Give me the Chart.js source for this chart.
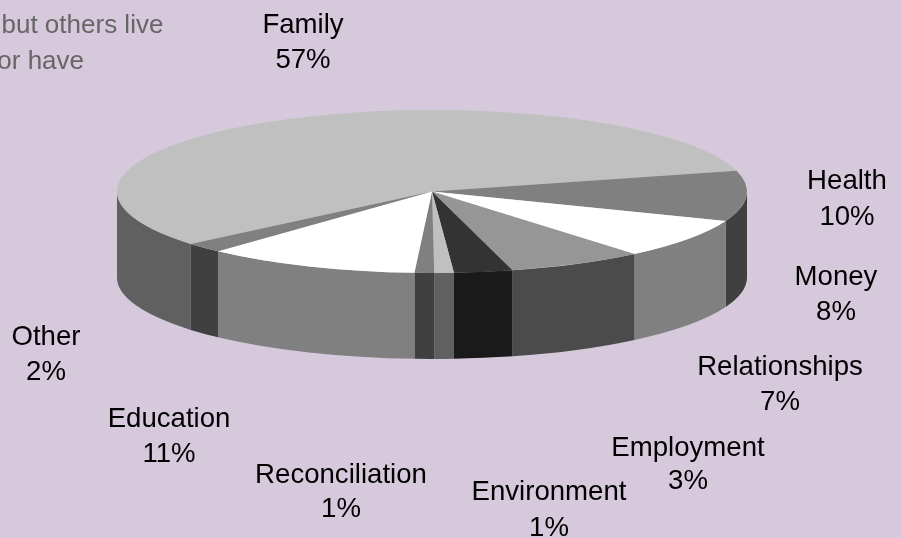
<!DOCTYPE html>
<html>
<head>
<meta charset="utf-8">
<style>
  html, body { margin: 0; padding: 0; background: #d6c9dc; }
  canvas { display: block; }
</style>
<script src="https://cdn.jsdelivr.net/npm/chart.js@4"></script>
</head>
<body>
<canvas id="myChart" width="901" height="538"></canvas>
<script>
var categories = ['Family', 'Health', 'Money', 'Relationships', 'Employment', 'Environment', 'Reconciliation', 'Education', 'Other'];
var shares = [57, 10, 8, 7, 3, 1, 1, 11, 2];
var topColors = ['#c0c0c0', '#808080', '#ffffff', '#969696', '#333333', '#c0c0c0', '#808080', '#ffffff', '#808080'];
var sideColors = ['#606060', '#404040', '#808080', '#4b4b4b', '#1a1a1a', '#606060', '#404040', '#808080', '#404040'];

// where each label sits: center x, y of name line, y of percent line
var labelSpots = [[303, 25, 60], [847, 181, 217], [836, 277, 312], [780, 367, 402], [688, 448, 481],
                  [549, 492, 528], [341, 475, 509], [169, 419, 454], [46, 337, 372]];
var cutOffLines = ['but others live', 'or have'];

var tilt = 0.2587;   // ellipse height / width
var depth = 86;      // thickness of the pie in pixels

var fakePie3d = {
  id: 'fakePie3d',
  beforeDatasetsDraw: function (chart) {
    var ctx = chart.ctx;
    var arcs = chart.getDatasetMeta(0).data;

    // the rim, only the part that faces the viewer
    arcs.forEach(function (arc, i) {
      var ry = arc.outerRadius * tilt;
      [0, Math.PI * 2].forEach(function (turn) {
        var from = Math.max(arc.startAngle, turn);
        var to = Math.min(arc.endAngle, turn + Math.PI);
        if (to <= from) return;
        ctx.beginPath();
        ctx.ellipse(arc.x, arc.y, arc.outerRadius, ry, 0, from, to);
        ctx.ellipse(arc.x, arc.y + depth, arc.outerRadius, ry, 0, to, from, true);
        ctx.closePath();
        ctx.fillStyle = sideColors[i];
        ctx.fill();
      });
    });

    // squash the library's own slices into the top face
    var c = arcs[0];
    ctx.save();
    ctx.translate(c.x, c.y);
    ctx.scale(1, tilt);
    ctx.translate(-c.x, -c.y);
  },
  afterDatasetsDraw: function (chart) {
    var ctx = chart.ctx;
    ctx.restore();

    ctx.font = '27.6px "Liberation Sans"';
    ctx.textBaseline = 'middle';
    ctx.textAlign = 'center';
    ctx.fillStyle = '#000000';
    categories.forEach(function (name, i) {
      var s = labelSpots[i];
      ctx.fillText(name, s[0], s[1]);
      ctx.fillText(shares[i] + '%', s[0], s[2]);
    });

    ctx.font = '26px "Liberation Sans"';
    ctx.textAlign = 'left';
    ctx.fillStyle = '#666666';
    ctx.fillText(cutOffLines[0], 1.5, 25.5);
    ctx.fillText(cutOffLines[1], -2.7, 61.5);
  }
};

new Chart(document.getElementById('myChart').getContext('2d'), {
  type: 'pie',
  plugins: [fakePie3d],
  data: {
    labels: categories,
    datasets: [{
      data: shares,
      backgroundColor: topColors,
      borderWidth: 0,
      radius: 315,
      clip: false
    }]
  },
  options: {
    responsive: false,
    animation: false,
    rotation: 230,
    layout: { padding: { right: 37, bottom: 155 } },
    plugins: {
      legend: { display: false },
      tooltip: { enabled: false }
    }
  }
});
</script>
</body>
</html>
